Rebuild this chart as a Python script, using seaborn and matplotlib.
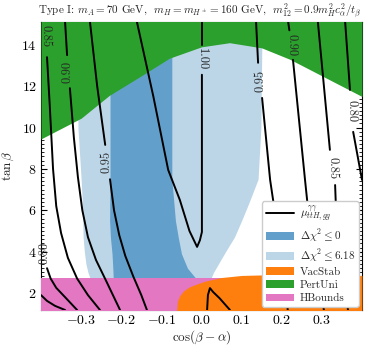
import matplotlib
matplotlib.use("Agg")
import matplotlib.pyplot as plt
import seaborn as sns
import numpy as np
from matplotlib.patches import Patch
from matplotlib.lines import Line2D
from matplotlib.ticker import MultipleLocator, AutoMinorLocator

sns.set_theme(style="ticks")
plt.rcParams.update({
    "font.family": ["cmr10", "DejaVu Serif"],
    "mathtext.fontset": "cm",
    "axes.formatter.use_mathtext": True,
    "font.size": 9,
    "axes.linewidth": 0.8,
    "axes.edgecolor": "black",
    "xtick.color": "black",
    "ytick.color": "black",
})

# ---------------- data ----------------
XLIM = (-0.4, 0.4)
YLIM = (1.18, 15.1)

# PertUni (green): lower boundary, region above it
pert_cos = [-0.4, -0.3, -0.23, -0.15, -0.08, 0.0, 0.07, 0.15, 0.22, 0.28, 0.34, 0.4]
pert_tan = [9.45, 10.45, 11.55, 12.5, 13.35, 13.9, 14.1, 13.85, 13.3, 12.7, 12.1, 11.5]

# light blue (Delta chi^2 <= 6.18)
lb_tan = [15.1, 10.0, 7.5, 6.35, 5.5, 4.7, 4.0, 3.4, 3.0, 2.73, 1.18]
lb_left = [-0.308, -0.308, -0.300, -0.297, -0.296, -0.295, -0.292, -0.288, -0.283, -0.278, -0.278]
lb_right = [0.151, 0.148, 0.141, 0.118, 0.100, 0.082, 0.060, 0.042, 0.030, 0.024, 0.024]

# dark blue (Delta chi^2 <= 0)
db_tan = [15.1, 7.5, 5.5, 4.7, 3.9, 3.2, 2.73, 1.18]
db_left = [-0.228, -0.228, -0.229, -0.227, -0.223, -0.221, -0.220, -0.220]
db_right = [-0.074, -0.074, -0.065, -0.058, -0.050, -0.035, -0.015, -0.015]

# HBounds (pink)
hb_top = 2.73

# VacStab (orange): top boundary
vs_cos = [-0.062, -0.060, -0.055, -0.045, -0.030, -0.010, 0.010, 0.050, 0.100, 0.200, 0.300, 0.400]
vs_tan = [1.18, 1.60, 1.85, 2.10, 2.30, 2.45, 2.58, 2.75, 2.85, 2.90, 2.90, 2.85]

# contour lines of mu (segments between labels)
contours = {
    "0.75": [[(-0.400, 1.90), (-0.385, 1.62), (-0.365, 1.38), (-0.340, 1.18)]],
    "0.80a": [[(-0.385, 3.20), (-0.376, 2.70), (-0.362, 2.25), (-0.340, 1.80), (-0.310, 1.18)]],
    "0.85a": [[(-0.385, 13.40), (-0.378, 11.0), (-0.370, 8.0), (-0.362, 6.2), (-0.350, 4.9),
               (-0.333, 3.7), (-0.310, 2.7), (-0.283, 1.9), (-0.253, 1.18)]],
    "0.90a": [[(-0.340, 15.11), (-0.335, 13.5)],
              [(-0.328, 11.9), (-0.318, 9.5), (-0.308, 7.6), (-0.297, 6.0), (-0.283, 4.7),
               (-0.263, 3.6), (-0.238, 2.6), (-0.203, 1.18)]],
    "0.95a": [[(-0.278, 15.11), (-0.260, 12.0), (-0.240, 9.16)],
              [(-0.228, 7.50), (-0.218, 6.0), (-0.205, 4.8), (-0.190, 3.8), (-0.170, 2.8),
               (-0.150, 1.9), (-0.136, 1.18)]],
    "1.00a": [[(0.001, 15.11), (0.001, 14.0)],
              [(0.001, 12.55), (0.001, 8.0), (0.001, 4.95), (-0.004, 4.55), (-0.011, 4.23),
               (-0.030, 5.0), (-0.054, 6.5), (-0.083, 7.95), (-0.120, 11.5), (-0.161, 15.11)]],
    "1.00b": [[(0.014, 1.18), (0.016, 1.9), (0.021, 2.24), (0.029, 2.05), (0.045, 1.75),
               (0.071, 1.18)]],
    "0.95b": [[(0.136, 15.11), (0.141, 13.13)],
              [(0.151, 11.43), (0.171, 7.47), (0.181, 6.16), (0.200, 3.5), (0.215, 1.18)]],
    "0.90b": [[(0.216, 15.11), (0.219, 14.7)],
              [(0.228, 13.27), (0.258, 7.47), (0.265, 6.16), (0.290, 3.0), (0.305, 1.18)]],
    "0.85b": [[(0.290, 15.11), (0.320, 8.92)],
              [(0.333, 7.22), (0.335, 6.16), (0.350, 3.5), (0.365, 1.18)]],
    "0.80b": [[(0.358, 15.11), (0.370, 11.82)],
              [(0.378, 9.79), (0.400, 7.47)]],
}

# contour labels: (text, cos, tan, rotation)
labels = [
    ("0.85", -0.389, 14.40, -90),
    ("0.80", -0.391, 3.94, 90),
    ("0.90", -0.333, 12.70, 90),
    ("0.95", -0.236, 8.35, 90),
    ("1.00", 0.001, 13.30, -90),
    ("0.95", 0.146, 12.25, 90),
    ("0.90", 0.224, 14.00, -90),
    ("0.85", 0.327, 8.05, -90),
    ("0.80", 0.375, 10.80, -90),
]

c_green = "#2ca02c"
c_orange = "#ff7f0e"
c_pink = "#e377c2"
c_dblue = "#629fca"
c_lblue = "#bcd6e8"

# ---------------- figure ----------------
fig = plt.figure(figsize=(3.65, 3.45), dpi=100)
ax = fig.add_axes([41 / 365, 1 - 310 / 345, (362 - 41) / 365, (310 - 22) / 345])

ax.fill_betweenx(lb_tan, lb_left, lb_right, color=c_lblue, lw=0, zorder=1)
ax.fill_betweenx(db_tan, db_left, db_right, color=c_dblue, lw=0, zorder=2)
ax.fill_between([-0.4, 0.4], YLIM[0] - 1, hb_top, color=c_pink, lw=0, zorder=3)
ax.fill_between(vs_cos, YLIM[0] - 1, vs_tan, color=c_orange, lw=0, zorder=4)
ax.fill_between(pert_cos, pert_tan, 16, color=c_green, lw=0, zorder=5)

for name, segs in contours.items():
    for seg in segs:
        xs = [p[0] for p in seg]
        ys = [p[1] for p in seg]
        sns.lineplot(x=xs, y=ys, sort=False, color="black", lw=1.4, ax=ax,
                     legend=False, zorder=6, estimator=None)

for txt, x, y, rot in labels:
    ax.text(x, y, txt, rotation=rot, ha="center", va="center", fontsize=9,
            zorder=7, rotation_mode="anchor")

ax.set_xlim(*XLIM)
ax.set_ylim(*YLIM)
ax.tick_params(which="both", direction="in", top=True, right=True, labelsize=10, pad=3)
ax.tick_params(which="major", length=4, width=0.8)
ax.tick_params(which="minor", length=2, width=0.6)
ax.set_xticks([-0.3, -0.2, -0.1, 0.0, 0.1, 0.2, 0.3])
ax.set_xticklabels([r"$-0.3$", r"$-0.2$", r"$-0.1$", r"$0.0$", r"$0.1$", r"$0.2$", r"$0.3$"])
ax.set_yticks([2, 4, 6, 8, 10, 12, 14])
ax.set_yticklabels([r"$2$", r"$4$", r"$6$", r"$8$", r"$10$", r"$12$", r"$14$"])
ax.xaxis.set_minor_locator(AutoMinorLocator(10))
ax.yaxis.set_minor_locator(AutoMinorLocator(10))
ax.set_xlabel(r"$\cos(\beta-\alpha)$", fontsize=9.5, labelpad=1)
ax.set_ylabel(r"$\tan\beta$", fontsize=9.5, labelpad=4)

handles = [
    Line2D([], [], color="black", lw=1.4),
    Patch(color=c_dblue, lw=0),
    Patch(color=c_lblue, lw=0),
    Patch(color=c_orange, lw=0),
    Patch(color=c_green, lw=0),
    Patch(color=c_pink, lw=0),
]
names = [r"$\mu^{\gamma\gamma}_{ttH,gg}$", r"$\Delta\chi^2 \leq 0$", r"$\Delta\chi^2 \leq 6.18$",
         "VacStab", "PertUni", "HBounds"]
leg = ax.legend(handles, names, loc="lower right", fontsize=8, frameon=True,
                framealpha=1, edgecolor="#cccccc", borderaxespad=0.3,
                handlelength=2.6, handleheight=0.7, labelspacing=0.3, borderpad=0.3,
                handletextpad=0.5)
leg.set_zorder(10)

fig.text(38 / 365, 1 - 11 / 345,
         r"Type I: $m_A = 70$ GeV,  $m_H = m_{H^\pm} = 160$ GeV,  $m_{12}^2 = 0.9 m_H^2 c_\alpha^2/t_\beta$",
         ha="left", va="center", fontsize=8.0)

fig.savefig("out.png", dpi=100)
